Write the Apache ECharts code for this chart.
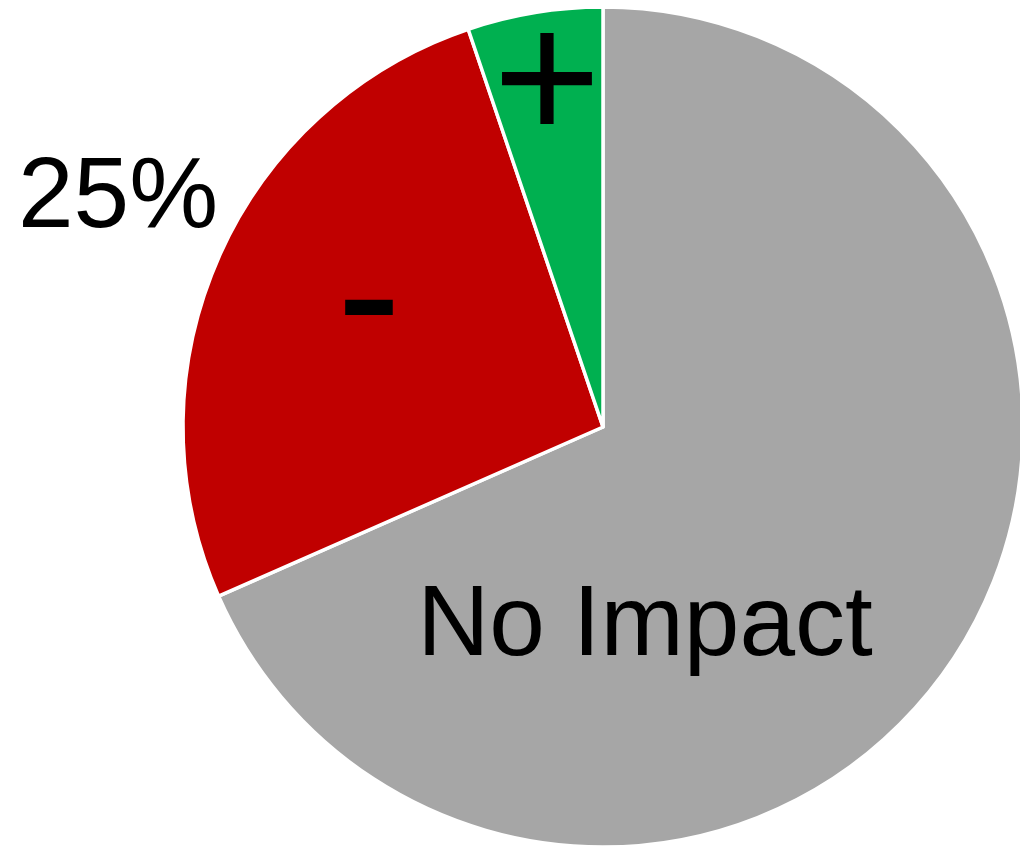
<!DOCTYPE html>
<html>
<head>
<meta charset="utf-8">
<script src="https://cdn.jsdelivr.net/npm/echarts@6/dist/echarts.min.js"></script>
<style>html,body{margin:0;padding:0;background:#fff}#c{width:1020px;height:847px}</style>
</head>
<body>
<div id="c"></div>
<script>
const categories = ['No Impact', '-', '+'];
const values = [68.4, 26.4, 5.2];
const colors = ['#A6A6A6', '#C00000', '#00B050'];
const calloutLabel = '25%';

const labelPos = [[645, 627], [369, 305], [547, 89]];
const labelSize = [100, 195, 185];

const chart = echarts.init(document.getElementById('c'), null, {renderer: 'canvas'});
chart.setOption({
  animation: false,
  backgroundColor: '#ffffff',
  series: [{
    type: 'pie',
    center: [603, 427],
    radius: [0, 420],
    startAngle: 90,
    clockwise: true,
    silent: true,
    itemStyle: {borderColor: '#ffffff', borderWidth: 3.5},
    label: {
      show: true,
      position: 'inside',
      color: '#000000',
      fontFamily: 'Liberation Sans',
      formatter: p => p.name
    },
    labelLine: {show: false},
    labelLayout: p => ({x: labelPos[p.dataIndex][0], y: labelPos[p.dataIndex][1], fontSize: labelSize[p.dataIndex]}),
    data: categories.map((c, i) => ({
      name: c, value: values[i],
      itemStyle: {color: colors[i]},
      label: {fontSize: labelSize[i]}
    }))
  }],
  graphic: [{
    type: 'text',
    x: 118, y: 199,
    style: {
      text: calloutLabel,
      fontFamily: 'Liberation Sans',
      fontSize: 100,
      fill: '#000000',
      align: 'center',
      verticalAlign: 'middle'
    }
  }]
});
</script>
</body>
</html>
